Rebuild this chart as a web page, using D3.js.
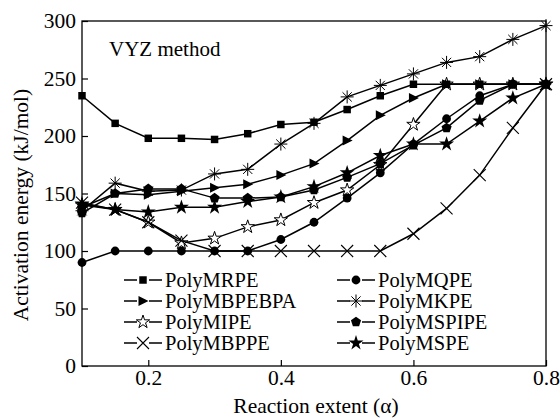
<!DOCTYPE html>
<html>
<head>
<meta charset="utf-8">
<script src="https://cdn.jsdelivr.net/npm/d3@7"></script>
<style>
  body { margin: 0; background: #fff; }
  svg text { font-family: "Liberation Serif", "DejaVu Serif", "Times New Roman", serif !important; fill: #000; }
</style>
</head>
<body>
<svg id="chart" width="560" height="418"></svg>
<script>
// reaction extent values
const alpha = [0.1, 0.15, 0.2, 0.25, 0.3, 0.35, 0.4, 0.45, 0.5, 0.55, 0.6, 0.65, 0.7, 0.75, 0.8];

// activation energy (kJ/mol)
const polyMRPE    = [235, 211, 198, 198, 197, 202, 210, 212, 223, 235, 245, 245, 245, 245, 245];
const polyMQPE    = [90, 100, 100, 100, 100, 100, 110, 125, 146, 168, 193, 215, 235, 245, 245];
const polyMBPEBPA = [138, 150, 149, 152, 155, 158, 166, 176, 196, 218, 233, 245, 245, 245, 245];
const polyMKPE    = [135, 159, 152, 153, 167, 171, 193, 211, 234, 244, 254, 264, 269, 284, 296];
const polyMIPE    = [140, 136, 125, 107, 111, 121, 127, 142, 153, 175, 210, 245, 245, 245, 245];
const polyMSPIPE  = [133, 150, 154, 154, 146, 146, 147, 153, 164, 176, 192, 207, 231, 245, 245];
const polyMBPPE   = [142, 136, 125, 109, 100, 100, 100, 100, 100, 100, 115, 137, 166, 207, 245];
const polyMSPE    = [141, 136, 134, 138, 138, 143, 147, 156, 168, 183, 193, 193, 213, 233, 245];

const seriesNames = ["PolyMRPE", "PolyMQPE", "PolyMBPEBPA", "PolyMKPE", "PolyMIPE", "PolyMSPIPE", "PolyMBPPE", "PolyMSPE"];
const seriesValues = [polyMRPE, polyMQPE, polyMBPEBPA, polyMKPE, polyMIPE, polyMSPIPE, polyMBPPE, polyMSPE];
const seriesMarkers = ["square", "circle", "triangle", "asterisk", "openstar", "pentagon", "cross", "star"];
// open-star series goes underneath the others
const drawOrder = [4, 0, 1, 2, 3, 5, 6, 7];

const yTicks = [0, 50, 100, 150, 200, 250, 300];
const xTicks = [0.2, 0.4, 0.6, 0.8];

const FONT = '"Liberation Serif", "DejaVu Serif", "Times New Roman", serif';

let svg = d3.select("#chart").attr("font-family", FONT);

const x_scale = d3.scaleLinear().domain([0.1, 0.8]).range([82, 546]);
const y_scale = d3.scaleLinear().domain([0, 300]).range([366, 21]);

// axes, ticks point inward
let yAxis = svg.append("g").attr("transform", "translate(82,0)")
  .call(d3.axisLeft(y_scale).tickValues(yTicks).tickSize(-6).tickPadding(6));
let xAxis = svg.append("g").attr("transform", "translate(0,366)")
  .call(d3.axisBottom(x_scale).tickValues(xTicks).tickSize(-6).tickPadding(4).tickFormat(d3.format(".1f")));
[yAxis, xAxis].forEach(a => {
  a.attr("font-family", FONT).attr("font-size", 21.5);
  a.select(".domain").remove();
  a.selectAll("line").attr("stroke", "#000").attr("stroke-width", 1.2);
  a.selectAll("text").attr("font-family", FONT).style("font-size", "21.5px");
});

svg.append("rect")
  .attr("x", 82).attr("y", 21).attr("width", 464).attr("height", 345)
  .attr("fill", "none").attr("stroke", "#000").attr("stroke-width", 1.3);

// marker drawing
function pentagonPath(r) {
  let pts = d3.range(5).map(i => {
    let a = -Math.PI / 2 + i * 2 * Math.PI / 5;
    return [r * Math.cos(a), r * Math.sin(a)];
  });
  return "M" + pts.map(p => p.join(",")).join("L") + "Z";
}

function drawMarker(g, type, cx, cy) {
  let m = g.append("g").attr("transform", `translate(${cx},${cy})`);
  if (type === "square") {
    m.append("path").attr("d", d3.symbol(d3.symbolSquare, 56)()).attr("fill", "#000");
  } else if (type === "circle") {
    m.append("circle").attr("r", 4.4).attr("fill", "#000");
  } else if (type === "triangle") {
    m.append("path").attr("d", "M-4.5,-5L5.5,0L-4.5,5Z").attr("fill", "#000");
  } else if (type === "asterisk") {
    d3.range(4).forEach(i => {
      let a = i * Math.PI / 4, r = 6.5;
      m.append("line")
        .attr("x1", -r * Math.cos(a)).attr("y1", -r * Math.sin(a))
        .attr("x2", r * Math.cos(a)).attr("y2", r * Math.sin(a))
        .attr("stroke", "#000").attr("stroke-width", 1);
    });
  } else if (type === "openstar") {
    m.append("path").attr("d", d3.symbol(d3.symbolStar, 55)()).attr("fill", "#fff").attr("stroke", "#000").attr("stroke-width", 1);
  } else if (type === "pentagon") {
    m.append("path").attr("d", pentagonPath(5.3)).attr("fill", "#000");
  } else if (type === "cross") {
    let r = 6;
    m.append("path").attr("d", `M${-r},${-r}L${r},${r}M${-r},${r}L${r},${-r}`)
      .attr("stroke", "#000").attr("stroke-width", 1.1).attr("fill", "none");
  } else if (type === "star") {
    m.append("path").attr("d", d3.symbol(d3.symbolStar, 70)()).attr("fill", "#000");
  }
}

const line = d3.line().x((d, i) => x_scale(alpha[i])).y(d => y_scale(d));

let plot = svg.append("g");
drawOrder.forEach(s => {
  let vals = seriesValues[s];
  let g = plot.append("g");
  g.append("path").attr("d", line(vals))
    .attr("fill", "none").attr("stroke", "#000").attr("stroke-width", 1.5);
  vals.forEach((v, i) => drawMarker(g, seriesMarkers[s], x_scale(alpha[i]), y_scale(v)));
});

// legend, two columns
let legend = svg.append("g");
seriesNames.forEach((name, s) => {
  let col = s % 2, row = Math.floor(s / 2);
  let lx = col === 0 ? 124 : 337;
  let ly = 280 + row * 21;
  legend.append("path").attr("d", `M${lx},${ly}H${lx + 13}M${lx + 25},${ly}H${lx + 38}`)
    .attr("stroke", "#000").attr("stroke-width", 1.5);
  drawMarker(legend, seriesMarkers[s], lx + 19, ly);
  legend.append("text").attr("x", lx + 41).attr("y", ly).attr("dy", "0.33em")
    .attr("font-family", FONT).style("font-size", "20.5px").text(name);
});

svg.append("text").attr("x", 109).attr("y", 56).attr("font-family", FONT)
  .style("font-size", "21px").text("VYZ method");

svg.append("text").attr("x", 316).attr("y", 413).attr("text-anchor", "middle")
  .attr("font-family", FONT).style("font-size", "21.5px").text("Reaction extent (α)");
svg.append("text").attr("transform", "translate(28,205) rotate(-90)").attr("text-anchor", "middle")
  .attr("font-family", FONT).style("font-size", "21.5px").text("Activation energy (kJ/mol)");
</script>
</body>
</html>
